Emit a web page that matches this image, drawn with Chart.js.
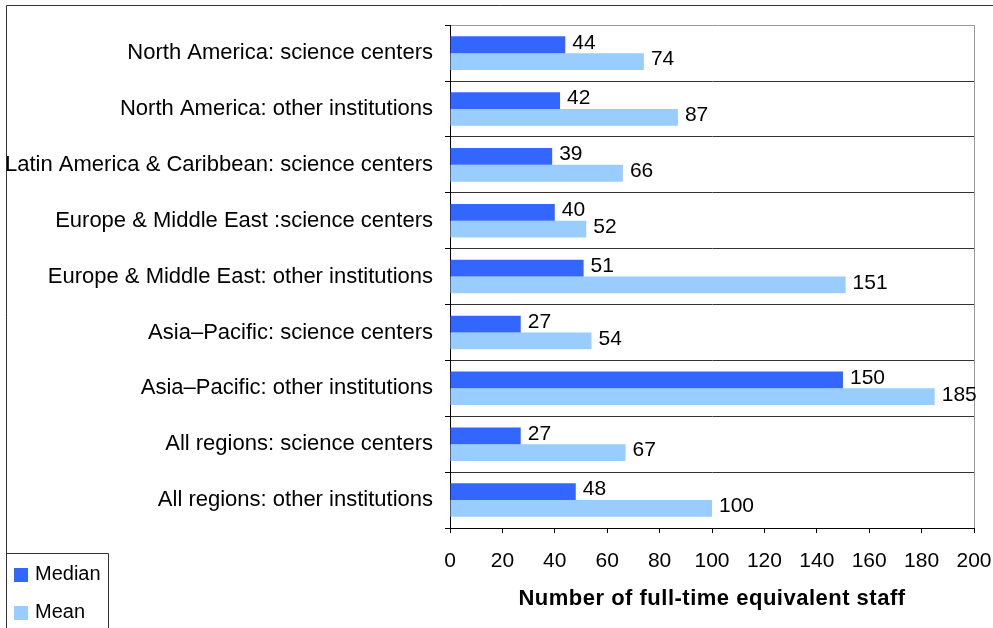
<!DOCTYPE html>
<html>
<head>
<meta charset="utf-8">
<script src="https://cdn.jsdelivr.net/npm/chart.js@4.4.1/dist/chart.umd.min.js"></script>
<style>
  html, body { margin: 0; padding: 0; background: #fff; }
  #wrap { width: 993px; height: 628px; }
</style>
</head>
<body>
<div id="wrap"><canvas id="staffChart" width="993" height="628"></canvas></div>
<script>
// data
const categories = [
  "North America: science centers",
  "North America: other institutions",
  "Latin America & Caribbean: science centers",
  "Europe & Middle East :science centers",
  "Europe & Middle East: other institutions",
  "Asia\u2013Pacific: science centers",
  "Asia\u2013Pacific: other institutions",
  "All regions: science centers",
  "All regions: other institutions"
];
const medianValues = [44, 42, 39, 40, 51, 27, 150, 27, 48];
const meanValues = [74, 87, 66, 52, 151, 54, 185, 67, 100];
const xTicks = [0, 20, 40, 60, 80, 100, 120, 140, 160, 180, 200];
const seriesNames = ["Median", "Mean"];
const axisTitle = "Number of full-time equivalent staff";

const FONT = "'Liberation Sans', Arial, sans-serif";
Chart.defaults.font.family = FONT;
Chart.defaults.color = "#000";

// value labels right of each bar (drawn on top of the plot border)
const valueLabels = {
  id: "valueLabels",
  beforeDatasetsDraw(chart) {
    const ctx = chart.ctx, area = chart.chartArea;
    ctx.save();
    ctx.strokeStyle = "#999";
    ctx.lineWidth = 1;
    ctx.beginPath();
    ctx.moveTo(Math.round(area.right) + 0.5, area.top);
    ctx.lineTo(Math.round(area.right) + 0.5, area.bottom);
    ctx.stroke();
    ctx.restore();
  },
  afterDatasetsDraw(chart) {
    const ctx = chart.ctx;
    ctx.save();
    ctx.font = "21px " + FONT;
    ctx.fillStyle = "#000";
    ctx.textAlign = "left";
    ctx.textBaseline = "middle";
    chart.data.datasets.forEach((ds, i) => {
      chart.getDatasetMeta(i).data.forEach((bar, j) => {
        ctx.fillText(String(ds.data[j]), bar.x + 7, bar.y - 2);
      });
    });
    ctx.restore();
  }
};

// outer frame, axis title (letter spaced) and the boxed legend
const frame = {
  id: "frame",
  afterDraw(chart) {
    const ctx = chart.ctx, area = chart.chartArea;
    ctx.save();
    ctx.strokeStyle = "#333";
    ctx.lineWidth = 1;
    ctx.beginPath();
    ctx.moveTo(993, 5.5);
    ctx.lineTo(6.5, 5.5);
    ctx.lineTo(6.5, 628);
    ctx.stroke();

    // x axis title
    ctx.font = "bold 22px " + FONT;
    ctx.fillStyle = "#000";
    ctx.textAlign = "center";
    ctx.textBaseline = "middle";
    ctx.letterSpacing = "0.5px";
    ctx.fillText(axisTitle, (area.left + area.right) / 2, 599);
    ctx.letterSpacing = "0px";

    // legend
    ctx.beginPath();
    ctx.moveTo(6.5, 553.5);
    ctx.lineTo(108.5, 553.5);
    ctx.lineTo(108.5, 628);
    ctx.stroke();
    const rows = [575, 613];
    ctx.font = "20px " + FONT;
    ctx.textAlign = "left";
    chart.data.datasets.forEach((ds, i) => {
      ctx.fillStyle = ds.backgroundColor;
      ctx.fillRect(14, rows[i] - 7, 14, 14);
      ctx.fillStyle = "#000";
      ctx.fillText(ds.label, 35, rows[i] - 1);
    });
    ctx.restore();
  }
};

new Chart(document.getElementById("staffChart"), {
  type: "bar",
  data: {
    labels: categories,
    datasets: [
      { label: seriesNames[0], data: medianValues, backgroundColor: "#3366FF", borderWidth: 0, barPercentage: 1, categoryPercentage: 0.6 },
      { label: seriesNames[1], data: meanValues, backgroundColor: "#99CCFF", borderWidth: 0, barPercentage: 1, categoryPercentage: 0.6 }
    ]
  },
  options: {
    indexAxis: "y",
    responsive: false,
    animation: false,
    layout: { padding: { top: 25, right: 19, left: 0, bottom: 0 } },
    plugins: { legend: { display: false }, tooltip: { enabled: false } },
    scales: {
      x: {
        min: 0, max: 200,
        afterBuildTicks: (s) => { s.ticks = xTicks.map(v => ({ value: v })); },
        afterFit: (s) => { s.height = 100; s.paddingLeft = 0; s.paddingRight = 0; },
        ticks: { color: "#000", font: { size: 21 }, padding: 16, maxRotation: 0 },
        grid: { drawOnChartArea: false, drawTicks: true, tickLength: 5, tickColor: "#000" },
        border: { color: "#000", width: 1 }
      },
      y: {
        afterFit: (s) => { s.width = 450; },
        ticks: { color: "#000", font: { size: 22 }, padding: 12, autoSkip: false },
        grid: { offset: true, color: (c) => c.index === 0 ? "#999" : "#333", tickLength: 5, tickColor: "#000" },
        border: { color: "#000", width: 1 }
      }
    }
  },
  plugins: [valueLabels, frame]
});
</script>
</body>
</html>
